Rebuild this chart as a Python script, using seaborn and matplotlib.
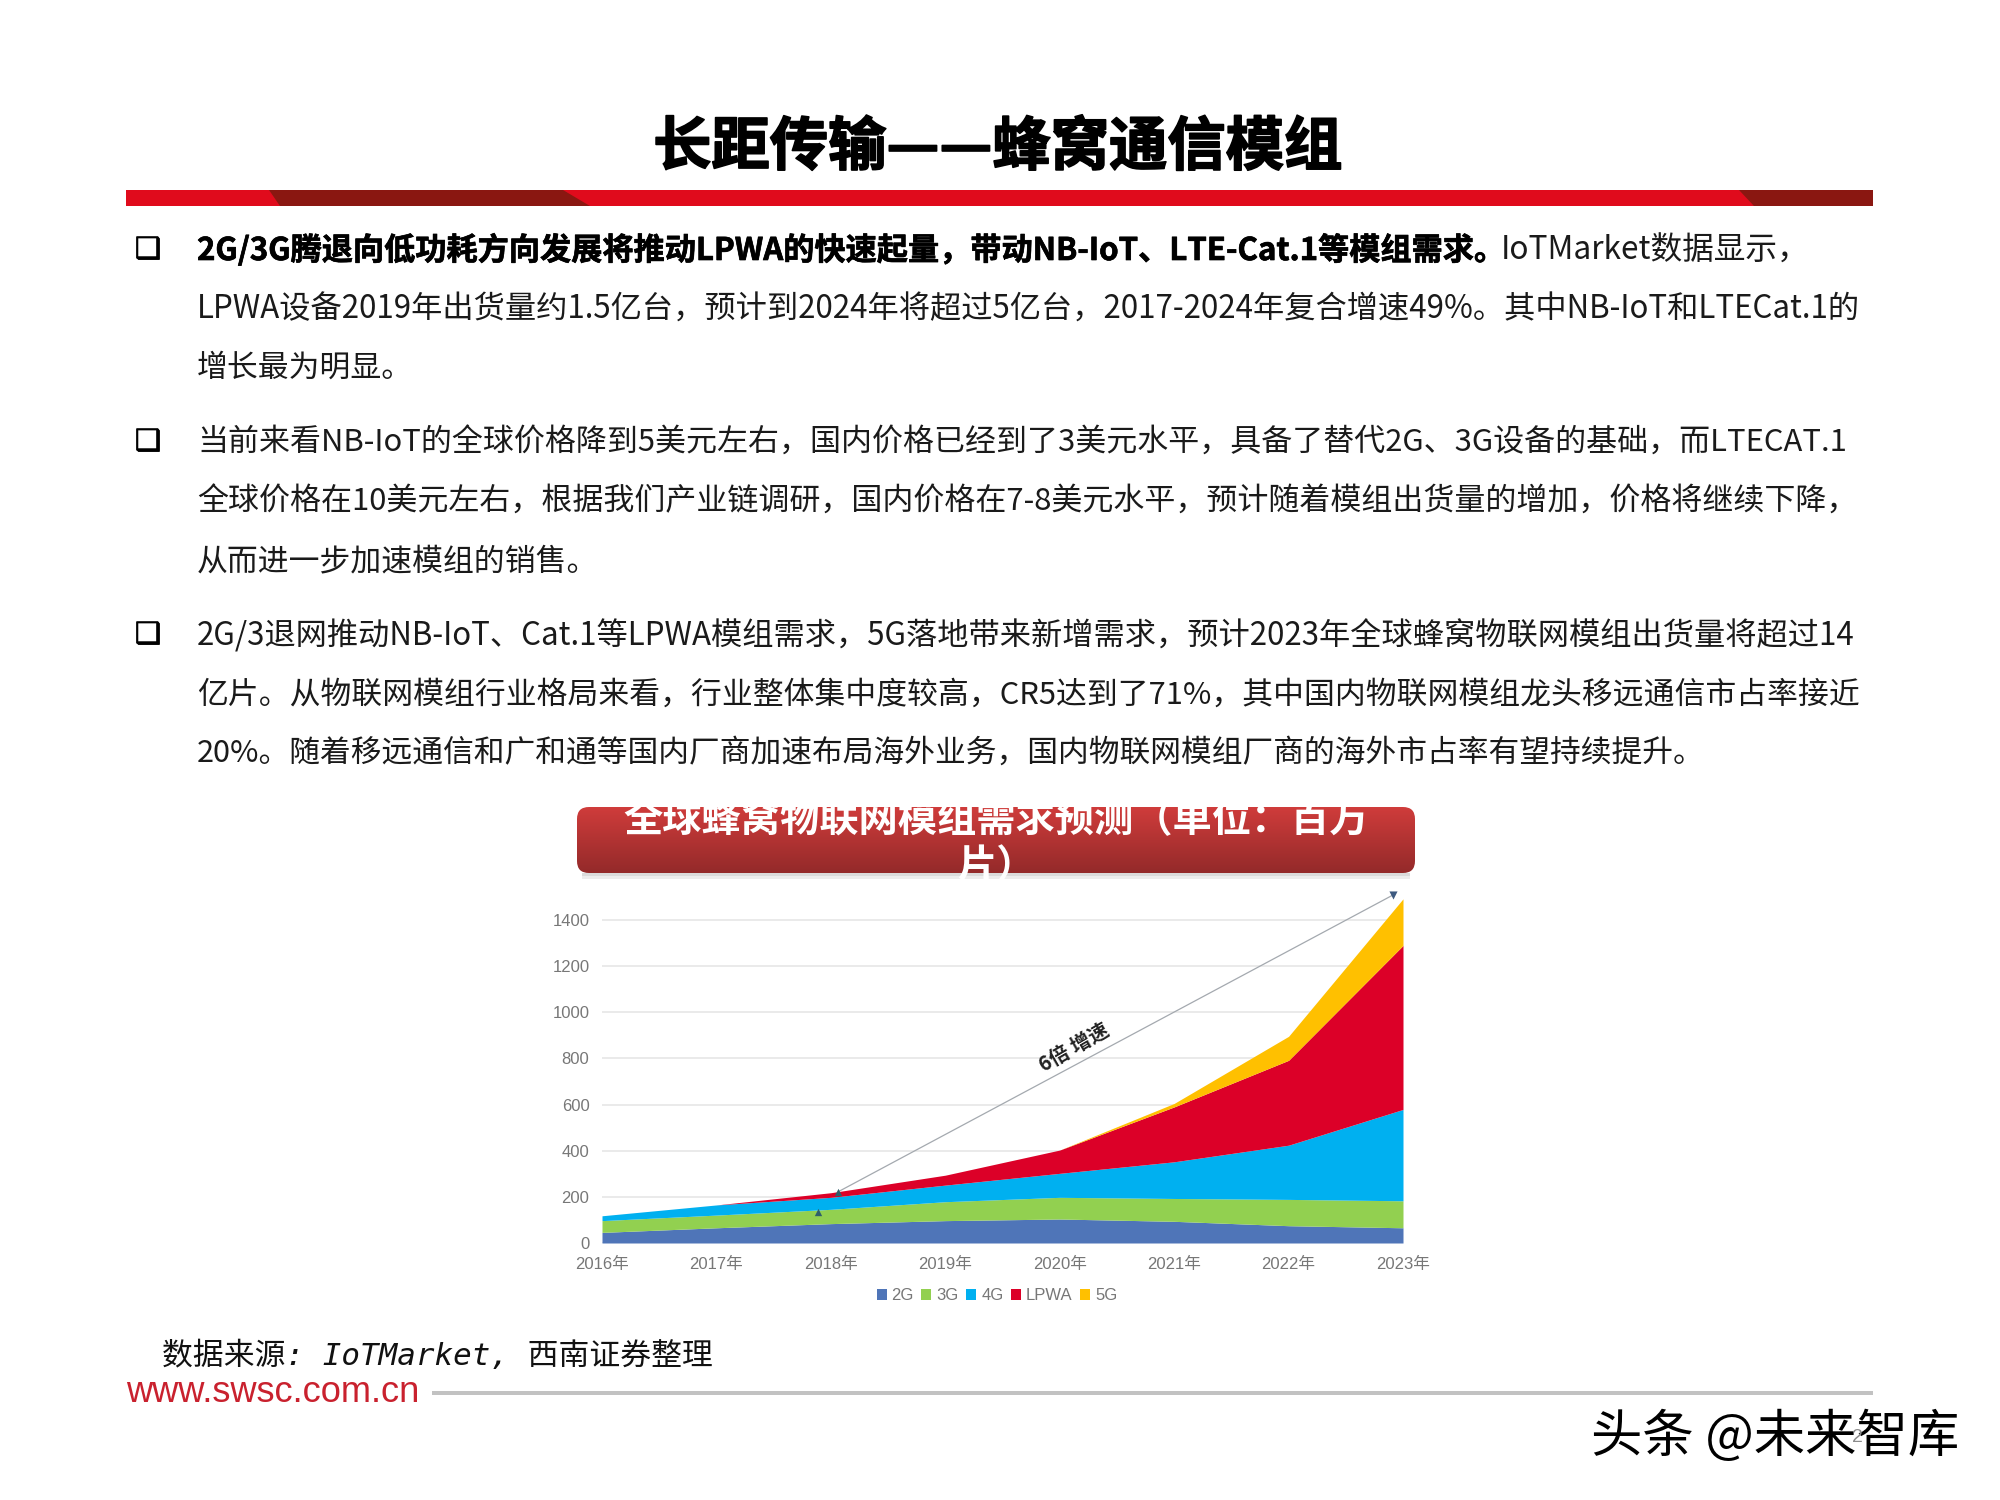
import numpy as np
import pandas as pd
import matplotlib
matplotlib.use('Agg')
import matplotlib.pyplot as plt
import matplotlib.patheffects as pe
from matplotlib.patches import FancyBboxPatch, Polygon, Rectangle
import seaborn as sns

# values (millions of modules)
years = [2016, 2017, 2018, 2019, 2020, 2021, 2022, 2023]
year_labels = ['2016年', '2017年', '2018年', '2019年', '2020年', '2021年', '2022年', '2023年']
series_names = ['2G', '3G', '4G', 'LPWA', '5G']
vals_2g = [46, 66, 84, 97, 104, 94, 75, 66]
vals_3g = [51, 55, 62, 82, 94, 99, 114, 117]
vals_4g = [21, 44, 52, 72, 104, 159, 235, 396]
vals_lpwa = [0, 0, 20, 43, 101, 238, 368, 711]
vals_5g = [0, 0, 0, 0, 0, 15, 104, 202]
y_ticks = [0, 200, 400, 600, 800, 1000, 1200, 1400]
colors = ['#4f75b8', '#92d050', '#00b0f0', '#dc0028', '#ffc000']

# growth arrow and its two small markers
trend_x = [2018.06, 2022.91]
trend_y = [221, 1508]
marker_x = [2017.89, 2018.06]
marker_y = [134, 221]

title = '长距传输——蜂窝通信模组'
chart_title = '全球蜂窝物联网模组需求预测（单位：百万\n片）'
bold_part = '2G/3G腾退向低功耗方向发展将推动LPWA的快速起量，带动NB-IoT、LTE-Cat.1等模组需求。'
body_lines = [
    'IoTMarket数据显示，',
    'LPWA设备2019年出货量约1.5亿台，预计到2024年将超过5亿台，2017-2024年复合增速49%。其中NB-IoT和LTECat.1的',
    '增长最为明显。',
    '当前来看NB-IoT的全球价格降到5美元左右，国内价格已经到了3美元水平，具备了替代2G、3G设备的基础，而LTECAT.1',
    '全球价格在10美元左右，根据我们产业链调研，国内价格在7-8美元水平，预计随着模组出货量的增加，价格将继续下降，',
    '从而进一步加速模组的销售。',
    '2G/3退网推动NB-IoT、Cat.1等LPWA模组需求，5G落地带来新增需求，预计2023年全球蜂窝物联网模组出货量将超过14',
    '亿片。从物联网模组行业格局来看，行业整体集中度较高，CR5达到了71%，其中国内物联网模组龙头移远通信市占率接近',
    '20%。随着移远通信和广和通等国内厂商加速布局海外业务，国内物联网模组厂商的海外市占率有望持续提升。',
]
# text baselines in pixels
line_y = [260, 319, 377, 452, 511, 570, 645, 704, 762]
line_sizes = [22.8, 22.5, 22.2, 22.3, 22.3, 22.2, 22.5, 22.2, 22.15]
bullet_y = [250, 442, 635]

sns.set_theme(style='white')
plt.rcParams['font.family'] = ['Noto Sans CJK SC', 'DejaVu Sans']
CJK = ['Noto Sans CJK SC', 'DejaVu Sans']

fig = plt.figure(figsize=(20, 15), dpi=100, facecolor='white')

# slide layer, in pixel coordinates
bg = fig.add_axes([0, 0, 1, 1])
bg.set_xlim(0, 2000)
bg.set_ylim(1500, 0)
bg.axis('off')

bg.text(998, 148, title, ha='center', va='center', fontsize=42, fontweight='bold', color='black', family=CJK,
        path_effects=[pe.withStroke(linewidth=1.2, foreground='black')])

# red header band with dark slanted pieces
bg.add_patch(Rectangle((126, 190), 1747, 16, color='#e00b1c', lw=0))
bg.add_patch(Polygon([(269, 190), (563, 190), (590, 206), (280, 206)], color='#8a1711', lw=0))
bg.add_patch(Polygon([(1739, 190), (1873, 190), (1873, 206), (1754, 206)], color='#8a1711', lw=0))

# body text
renderer = fig.canvas.get_renderer()
first = bg.text(197, line_y[0], bold_part, ha='left', va='baseline', fontsize=22.45, fontweight='bold', color='black',
                family=CJK, path_effects=[pe.withStroke(linewidth=0.5, foreground='black')])
box = first.get_window_extent(renderer)
bg.text(box.x1 - 3, line_y[0], body_lines[0], ha='left', va='baseline', fontsize=line_sizes[0], color='#1a1a1a', family=CJK)
for line, y, size in zip(body_lines[1:], line_y[1:], line_sizes[1:]):
    bg.text(197, y, line, ha='left', va='baseline', fontsize=size, color='#1a1a1a', family=CJK)
for y in bullet_y:
    bg.text(148, y, '\u2751', ha='center', va='center', fontsize=21, color='black', family='DejaVu Sans',
            path_effects=[pe.withStroke(linewidth=0.6, foreground='black')])

# chart title pill with a vertical gradient and a soft shadow
bg.add_patch(Rectangle((582, 873), 828, 3, color='#c4c4c4', alpha=0.6, lw=0))
bg.add_patch(Rectangle((582, 876), 828, 3, color='#dddddd', alpha=0.5, lw=0))
pill = FancyBboxPatch((587, 817), 818, 46, boxstyle='round,pad=10,rounding_size=12', facecolor='none', edgecolor='none')
bg.add_patch(pill)
grad = np.linspace(0, 1, 64).reshape(-1, 1)
cmap = matplotlib.colors.LinearSegmentedColormap.from_list('pill', ['#cf3c3b', '#942a2a'])
im = bg.imshow(grad, extent=(577, 1415, 873, 807), cmap=cmap, aspect='auto', zorder=2)
im.set_clip_path(pill)
bg.set_xlim(0, 2000)
bg.set_ylim(1500, 0)
bg.text(996, 843, chart_title, ha='center', va='center', fontsize=28.3, fontweight='bold', color='white',
        family=CJK, linespacing=1.2, zorder=3)

# footer
bg.text(162, 1356, '数据来源: IoTMarket, 西南证券整理', ha='left', va='center', fontsize=22.2, style='italic',
        color='#111111', family=['DejaVu Sans Mono', 'Noto Sans CJK SC'])
bg.text(126, 1392, 'www.swsc.com.cn', ha='left', va='center', fontsize=26.1, color='#c9212e', family='Liberation Sans')
bg.add_patch(Rectangle((432, 1391), 1441, 4, color='#c2c2c2', lw=0))
bg.text(1591, 1437, '头条 @未来智库', ha='left', va='center', fontsize=37, color='black', family=CJK)
bg.text(1857, 1438, '2', ha='center', va='center', fontsize=14, color='#8c8c8c', family='Liberation Sans')

# the chart itself
left, right = 602, 1403
y0, y_top = 1243, 897
ax = fig.add_axes([left / 2000, (1500 - y0) / 1500, (right - left) / 2000, (y0 - y_top) / 1500])
ax.patch.set_alpha(0)

stacks = ax.stackplot(years, vals_2g, vals_3g, vals_4g, vals_lpwa, vals_5g, colors=colors, labels=series_names,
                      linewidth=0, zorder=2)

sns.lineplot(x=trend_x, y=trend_y, ax=ax, color='#a4a9af', linewidth=0.9, zorder=3)
ax.lines[-1].set_clip_on(False)
sns.scatterplot(x=marker_x, y=marker_y, ax=ax, marker='^', s=28, color='#2f5f6b', linewidth=0, zorder=4)
sns.scatterplot(x=trend_x[1:], y=trend_y[1:], ax=ax, marker='v', s=34, color='#3d5a80', linewidth=0, zorder=4,
                clip_on=False)

ax.text(2020.12, 850, '6倍 增速', rotation=30, ha='center', va='center', fontsize=14.5, fontweight='bold',
        color='#222222', family=CJK, zorder=5)

ax.set_xlim(2016, 2023)
ax.set_ylim(0, 1500)
ax.set_yticks(y_ticks)
ax.set_xticks(years)
ax.set_xticklabels(year_labels)
ax.grid(axis='y', color='#e6e6e6', linewidth=1.2, zorder=0)
ax.set_axisbelow(True)
ax.tick_params(axis='both', length=0, labelsize=12, labelcolor='#777777')
ax.tick_params(axis='y', pad=9)
ax.tick_params(axis='x', pad=10)
for lab in ax.get_xticklabels() + ax.get_yticklabels():
    lab.set_family(['Liberation Sans', 'Noto Sans CJK SC'])
sns.despine(ax=ax, left=True, bottom=True)

ax.legend(handles=stacks, ncol=5, frameon=False, loc='center', bbox_to_anchor=(0.493, -0.153),
          labelcolor='#777777', handlelength=0.6, handleheight=0.6, handletextpad=0.3,
          columnspacing=0.45, prop={'family': 'Liberation Sans', 'size': 12})

fig.savefig('out.png', dpi=100)
